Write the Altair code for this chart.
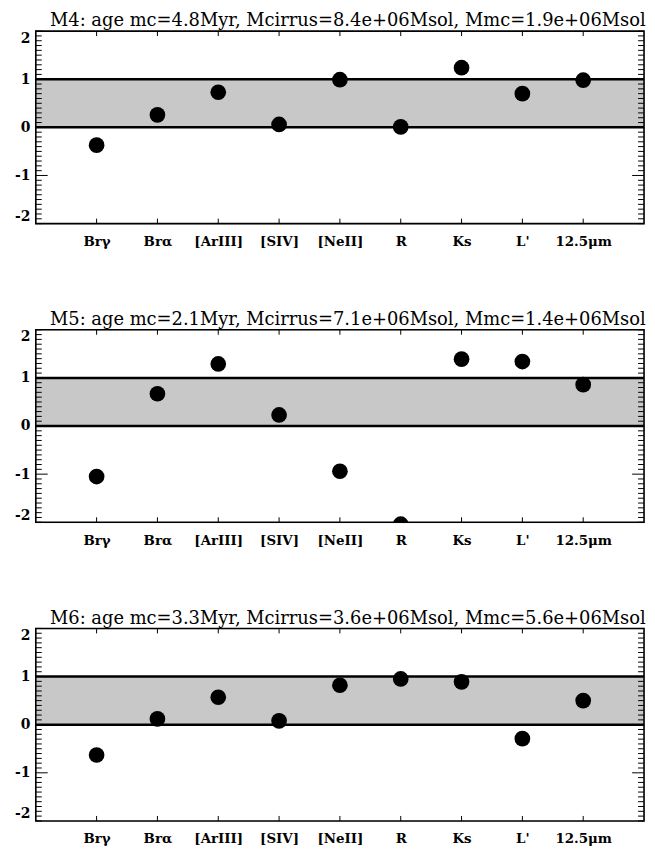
import json
import altair as alt
import numpy as np
import pandas as pd

# ---- data ----
bands = ["Brγ", "Brα", "[ArIII]", "[SIV]", "[NeII]", "R", "Ks", "L'", "12.5μm"]
positions = [1, 2, 3, 4, 5, 6, 7, 8, 9]
m4_vals = [-0.37, 0.26, 0.73, 0.06, 0.99, 0.01, 1.24, 0.70, 0.98]
m5_vals = [-1.05, 0.67, 1.29, 0.23, -0.94, -2.04, 1.39, 1.34, 0.86]
m6_vals = [-0.63, 0.12, 0.57, 0.08, 0.82, 0.95, 0.89, -0.29, 0.50]
titles = [
    "M4: age mc=4.8Myr, Mcirrus=8.4e+06Msol, Mmc=1.9e+06Msol",
    "M5: age mc=2.1Myr, Mcirrus=7.1e+06Msol, Mmc=1.4e+06Msol",
    "M6: age mc=3.3Myr, Mcirrus=3.6e+06Msol, Mmc=5.6e+06Msol",
]
y_label_values = [-2, -1, 0, 1, 2]
band_low, band_high = 0, 1
x_domain = [0, 10]
y_domain = [-2, 2]

W, H = 613, 194
LABEL_FONT = "DejaVu Serif"

label_expr = json.dumps(bands, ensure_ascii=False) + "[datum.value-1]"


def xenc(field="x"):
    return alt.X(
        f"{field}:Q",
        scale=alt.Scale(domain=x_domain, nice=False, zero=False),
        axis=alt.Axis(
            values=positions, labelExpr=label_expr, ticks=False, domain=False,
            grid=False, title=None, labelPadding=11, labelFont=LABEL_FONT,
            labelFontWeight="bold", labelFontSize=13.5, labelColor="black",
        ),
    )


def yenc(field="y"):
    return alt.Y(
        f"{field}:Q",
        scale=alt.Scale(domain=y_domain, nice=False, zero=False),
        axis=alt.Axis(
            values=y_label_values, labelExpr="datum.value", ticks=False,
            domain=False, grid=False, title=None, labelFlush=True,
            labelPadding=6, labelFont=LABEL_FONT, labelFontWeight="bold",
            labelFontSize=14, labelColor="black",
        ),
    )


minor_vals = [round(v, 1) for v in np.arange(-2.0, 2.01, 0.1)]
major_vals = [-1, 0, 1]
ytick_minor = pd.DataFrame({"y": [v for v in minor_vals if v not in major_vals]})
ytick_major = pd.DataFrame({"y": major_vals})
xtick_df = pd.DataFrame({"x": positions})
frame_df = pd.DataFrame({"x": [x_domain[0]], "x2": [x_domain[1]],
                         "y": [y_domain[0]], "y2": [y_domain[1]]})


def panel(vals, title):
    pts = pd.DataFrame({"x": positions, "y": vals, "band": bands})
    band_df = pd.DataFrame({"x": [x_domain[0]], "x2": [x_domain[1]],
                            "y": [band_low], "y2": [band_high]})
    line_df = pd.DataFrame({"y": [band_low, band_high]})

    band = alt.Chart(band_df).mark_rect(color="#c8c8c8").encode(
        x=xenc(), x2="x2:Q", y=yenc(), y2="y2:Q")
    lines = alt.Chart(line_df).mark_rule(color="black", strokeWidth=2.5).encode(
        y=yenc())
    tl_min = alt.Chart(ytick_minor).mark_rule(color="black", strokeWidth=1).encode(
        y=yenc(), x=alt.value(0), x2=alt.value(6))
    tr_min = alt.Chart(ytick_minor).mark_rule(color="black", strokeWidth=1).encode(
        y=yenc(), x=alt.value(W - 6), x2=alt.value(W))
    tl_maj = alt.Chart(ytick_major).mark_rule(color="black", strokeWidth=1).encode(
        y=yenc(), x=alt.value(0), x2=alt.value(12))
    tr_maj = alt.Chart(ytick_major).mark_rule(color="black", strokeWidth=1).encode(
        y=yenc(), x=alt.value(W - 12), x2=alt.value(W))
    xt_top = alt.Chart(xtick_df).mark_rule(color="black", strokeWidth=1).encode(
        x=xenc(), y=alt.value(0), y2=alt.value(5))
    xt_bot = alt.Chart(xtick_df).mark_rule(color="black", strokeWidth=1).encode(
        x=xenc(), y=alt.value(H - 5), y2=alt.value(H))
    points = alt.Chart(pts).mark_circle(color="black", opacity=1, size=250,
                                        clip=True).encode(x=xenc(), y=yenc())
    frame = alt.Chart(frame_df).mark_rect(
        filled=False, stroke="black", strokeWidth=1.6, fillOpacity=0
    ).encode(x=xenc(), x2="x2:Q", y=yenc(), y2="y2:Q")
    return alt.layer(
        band, lines, tl_min, tr_min, tl_maj, tr_maj, xt_top, xt_bot, points, frame
    ).properties(
        width=W, height=H,
        title=alt.TitleParams(title, font="DejaVu Serif", fontSize=18,
                              fontWeight="normal", anchor="middle", offset=0,
                              dx=8, color="black"),
    )


chart = alt.vconcat(
    panel(m4_vals, titles[0]),
    panel(m5_vals, titles[1]),
    panel(m6_vals, titles[2]),
    spacing=62,
).properties(
    padding={"left": 5, "top": 0, "right": 0, "bottom": 0},
).configure_view(
    stroke=None
).configure(background="white")

chart.save("out.html", embed_options={"renderer": "svg", "actions": False})
